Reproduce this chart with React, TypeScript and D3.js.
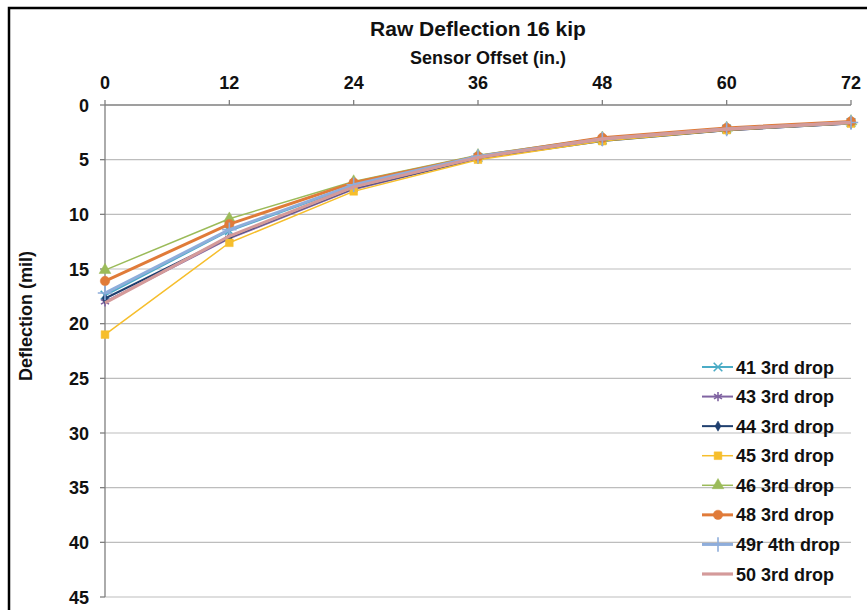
import React from "react";
import * as d3 from "d3";

const offsets = [0, 12, 24, 36, 48, 60, 72];
const xTicks = [0, 12, 24, 36, 48, 60, 72];
const yTicks = [0, 5, 10, 15, 20, 25, 30, 35, 40, 45];

const seriesNames = [
  "41 3rd drop",
  "43 3rd drop",
  "44 3rd drop",
  "45 3rd drop",
  "46 3rd drop",
  "48 3rd drop",
  "49r 4th drop",
  "50 3rd drop",
];

const s41 = [17.4, 11.5, 7.4, 4.8, 3.2, 2.2, 1.6];
const s43 = [18.0, 12.2, 7.7, 4.9, 3.2, 2.3, 1.7];
const s44 = [17.7, 12.1, 7.6, 4.9, 3.3, 2.3, 1.7];
const s45 = [21.0, 12.6, 7.9, 5.0, 3.3, 2.3, 1.7];
const s46 = [15.1, 10.4, 7.0, 4.6, 3.0, 2.1, 1.5];
const s48 = [16.1, 10.9, 7.1, 4.7, 3.0, 2.1, 1.5];
const s49r = [17.2, 11.4, 7.3, 4.7, 3.1, 2.2, 1.6];
const s50 = [18.1, 12.0, 7.5, 4.8, 3.1, 2.2, 1.6];

const seriesValues = [s41, s43, s44, s45, s46, s48, s49r, s50];

const colors = ["#4BACC6", "#8064A2", "#1F3F6E", "#F6BE2C", "#9BBB59", "#E07B39", "#8EADDB", "#D49A9A"];
const widths = [2, 2, 2, 1.5, 1.5, 3, 3, 3.2];
const markerKinds = ["times", "asterisk", "diamond", "square", "triangle", "circle", "plus", "none"];

const W = 867;
const H = 610;
const left = 105;
const right = 851;
const top = 105;
const bottom = 597;

const FONT = "'Liberation Sans', Arial, sans-serif";

function markerPath(kind: string): { d: string | null; filled: boolean; size: number } {
  switch (kind) {
    case "times":
      return { d: d3.symbol(d3.symbolTimes, 50)(), filled: false, size: 50 };
    case "asterisk":
      return { d: d3.symbol(d3.symbolAsterisk, 60)(), filled: false, size: 60 };
    case "diamond":
      return { d: d3.symbol(d3.symbolDiamond, 30)(), filled: true, size: 30 };
    case "square":
      return { d: d3.symbol(d3.symbolSquare, 60)(), filled: true, size: 60 };
    case "triangle":
      return { d: d3.symbol(d3.symbolTriangle, 60)(), filled: true, size: 60 };
    case "circle":
      return { d: d3.symbol(d3.symbolCircle, 70)(), filled: true, size: 70 };
    case "plus":
      return { d: d3.symbol(d3.symbolPlus, 70)(), filled: false, size: 70 };
    default:
      return { d: null, filled: true, size: 0 };
  }
}

function Marker({ kind, color, x, y }: { kind: string; color: string; x: number; y: number }) {
  const m = markerPath(kind);
  if (!m.d) return null;
  return (
    <path
      d={m.d}
      transform={`translate(${x},${y})`}
      fill={m.filled ? color : "none"}
      stroke={color}
      strokeWidth={m.filled ? 0.5 : 1.6}
    />
  );
}

export default function App() {
  const x = d3.scaleLinear().domain([0, 72]).range([left, right]);
  const y = d3.scaleLinear().domain([0, 45]).range([top, bottom]);
  const line = d3
    .line<number>()
    .x((_, i) => x(offsets[i]))
    .y((d) => y(d));

  const legendY = d3.scaleLinear().domain([0, seriesNames.length - 1]).range([367, 574]);
  const legendTextX = 736;

  return (
    <svg
      width={W}
      height={H}
      style={{ position: "absolute", left: 0, top: 0, background: "#fff" }}
      fontFamily={FONT}
    >
      <rect x={0} y={0} width={W} height={H} fill="#fff" />
      <rect x={9} y={8} width={W + 20} height={H + 20} fill="none" stroke="#000" strokeWidth={2.5} />

      <text x={478} y={36} textAnchor="middle" fontSize={21} fontWeight="bold" fill="#111">
        Raw Deflection 16 kip
      </text>
      <text x={488} y={64} textAnchor="middle" fontSize={18} fontWeight="bold" fill="#111">
        Sensor Offset (in.)
      </text>

      {/* gridlines */}
      {yTicks.slice(1).map((t) => (
        <line key={"g" + t} x1={left} x2={right} y1={y(t)} y2={y(t)} stroke="#BDBDBD" strokeWidth={1.2} />
      ))}

      {/* axes */}
      <line x1={left} x2={right} y1={top} y2={top} stroke="#7F7F7F" strokeWidth={1.3} />
      <line x1={left} x2={left} y1={top} y2={bottom} stroke="#7F7F7F" strokeWidth={1.3} />
      {xTicks.map((t) => (
        <g key={"xt" + t}>
          <line x1={x(t)} x2={x(t)} y1={top - 5} y2={top} stroke="#7F7F7F" strokeWidth={1.3} />
          <text x={x(t)} y={89} textAnchor="middle" fontSize={18} fontWeight="bold" fill="#111">
            {t}
          </text>
        </g>
      ))}
      {yTicks.map((t) => (
        <g key={"yt" + t}>
          <line x1={left - 5} x2={left} y1={y(t)} y2={y(t)} stroke="#7F7F7F" strokeWidth={1.3} />
          <text x={89} y={y(t) + 6.5} textAnchor="end" fontSize={18} fontWeight="bold" fill="#111">
            {t}
          </text>
        </g>
      ))}

      <text
        transform={`translate(32,316) rotate(-90)`}
        textAnchor="middle"
        fontSize={18}
        fontWeight="bold"
        fill="#111"
      >
        Deflection (mil)
      </text>

      {/* series */}
      {seriesValues.map((vals, si) => (
        <g key={"s" + si}>
          <path d={line(vals) || ""} fill="none" stroke={colors[si]} strokeWidth={widths[si]} strokeLinejoin="round" />
          {vals.map((v, i) => (
            <Marker key={i} kind={markerKinds[si]} color={colors[si]} x={x(offsets[i])} y={y(v)} />
          ))}
        </g>
      ))}

      {/* legend */}
      {seriesNames.map((name, si) => {
        const ly = legendY(si);
        return (
          <g key={"l" + si}>
            <line x1={legendTextX - 34} x2={legendTextX - 3} y1={ly} y2={ly} stroke={colors[si]} strokeWidth={widths[si]} />
            <Marker kind={markerKinds[si]} color={colors[si]} x={legendTextX - 18} y={ly} />
            <text x={legendTextX} y={ly + 6.5} fontSize={18} fontWeight="bold" fill="#111">
              {name}
            </text>
          </g>
        );
      })}
    </svg>
  );
}
